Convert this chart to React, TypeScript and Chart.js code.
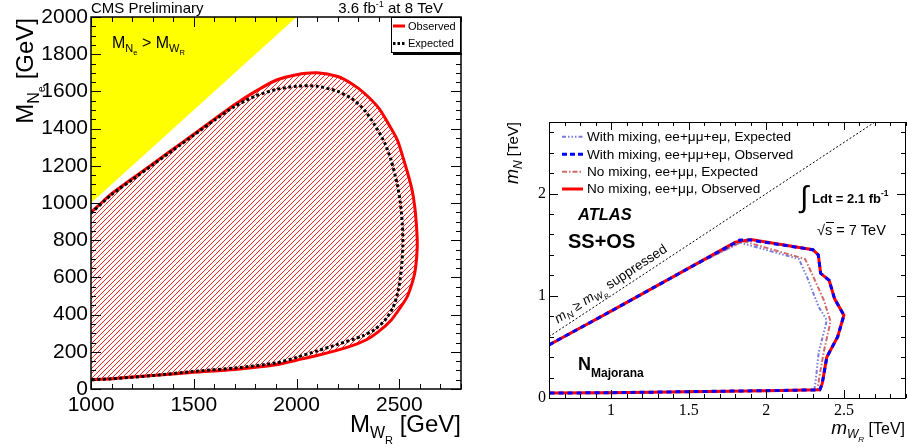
import React, { useEffect, useRef } from "react";
import { Chart, registerables } from "chart.js";
Chart.register(...registerables);

// ---------------- CMS (left) data ----------------
const cmsXTicks = [1000, 1500, 2000, 2500];
const cmsYTicks = [0, 200, 400, 600, 800, 1000, 1200, 1400, 1600, 1800, 2000];
const cmsForbiddenX = [1000, 2000, 1000];
const cmsForbiddenY = [1000, 2000, 2000];
const cmsObsX = [1000, 1050, 1100, 1200, 1300, 1400, 1500, 1600, 1700, 1800, 1900, 2000, 2100, 2200, 2270, 2330, 2400, 2450, 2490, 2530, 2560, 2575, 2585, 2587, 2580, 2570, 2540, 2500, 2460, 2400, 2340, 2250, 2100, 2000, 1900, 1700, 1500, 1300, 1200, 1100, 1000];
const cmsObsY = [950, 1000, 1050, 1130, 1210, 1290, 1370, 1450, 1530, 1600, 1660, 1690, 1700, 1680, 1640, 1590, 1510, 1420, 1340, 1200, 1080, 980, 850, 760, 660, 600, 500, 430, 370, 310, 265, 225, 180, 155, 130, 105, 90, 72, 65, 55, 50];
const cmsExpX = [1000, 1100, 1200, 1300, 1400, 1500, 1600, 1700, 1800, 1900, 2000, 2100, 2200, 2270, 2330, 2380, 2430, 2460, 2490, 2505, 2515, 2517, 2510, 2495, 2470, 2430, 2380, 2320, 2200, 2100, 2000, 1900, 1700, 1500, 1300, 1100, 1000];
const cmsExpY = [945, 1045, 1125, 1205, 1285, 1365, 1445, 1520, 1575, 1610, 1628, 1628, 1600, 1560, 1500, 1420, 1320, 1230, 1100, 1000, 880, 770, 650, 530, 440, 370, 320, 285, 240, 205, 170, 140, 113, 95, 72, 55, 50];
const cmsLegend = ["Observed", "Expected"];

// ---------------- ATLAS (right) data ----------------
const atlasXTicks = [1, 1.5, 2, 2.5];
const atlasYTicks = [0, 1, 2];
const atlasNoMixObsX = [0.6, 0.8, 1.0, 1.25, 1.5, 1.8, 1.9, 2.3, 2.335, 2.35, 2.405, 2.44, 2.5, 2.46, 2.39, 2.36, 2.345, 2.0, 1.5, 1.0, 0.6];
const atlasNoMixObsY = [0.52, 0.685, 0.85, 1.06, 1.27, 1.525, 1.55, 1.45, 1.4, 1.22, 1.15, 0.97, 0.81, 0.6, 0.4, 0.14, 0.08, 0.072, 0.062, 0.052, 0.048];
const atlasMixObsX = [0.6, 0.8, 1.0, 1.25, 1.5, 1.83, 1.9, 2.3, 2.335, 2.35, 2.405, 2.44, 2.5, 2.46, 2.39, 2.36, 2.345, 2.0, 1.5, 1.0, 0.6];
const atlasMixObsY = [0.52, 0.685, 0.85, 1.06, 1.27, 1.545, 1.545, 1.45, 1.4, 1.22, 1.15, 0.97, 0.81, 0.6, 0.4, 0.14, 0.08, 0.072, 0.062, 0.052, 0.048];
const atlasNoMixExpX = [0.6, 0.8, 1.0, 1.25, 1.5, 1.85, 2.25, 2.305, 2.37, 2.414, 2.37, 2.338, 2.33, 2.0, 1.5, 1.0, 0.6];
const atlasNoMixExpY = [0.52, 0.685, 0.85, 1.06, 1.27, 1.535, 1.36, 1.18, 0.96, 0.75, 0.45, 0.17, 0.08, 0.072, 0.062, 0.052, 0.048];
const atlasMixExpX = [0.6, 0.8, 1.0, 1.25, 1.5, 1.83, 2.21, 2.263, 2.338, 2.39, 2.338, 2.318, 2.31, 2.0, 1.5, 1.0, 0.6];
const atlasMixExpY = [0.52, 0.685, 0.85, 1.06, 1.27, 1.52, 1.36, 1.18, 0.89, 0.76, 0.45, 0.17, 0.08, 0.072, 0.062, 0.052, 0.048];
const atlasDiagX = [0.6, 2.7];
const atlasDiagY = [0.6, 2.7];
const atlasLegend = [
  "With mixing, ee+\u03bc\u03bc+e\u03bc, Expected",
  "With mixing, ee+\u03bc\u03bc+e\u03bc, Observed",
  "No mixing, ee+\u03bc\u03bc, Expected",
  "No mixing, ee+\u03bc\u03bc, Observed",
];

const pts = (xs: number[], ys: number[]) => xs.map((x, i) => ({ x, y: ys[i] }));

const SANS = '"Liberation Sans", Arial, sans-serif';
const SERIF = '"Liberation Serif", "Times New Roman", serif';
const f = (size: number, style = "") => `${style} ${size}px ${SANS}`.trim();

type Seg = [string, string, number?];
function segsWidth(ctx: CanvasRenderingContext2D, segs: Seg[]) {
  let w = 0;
  for (const s of segs) {
    ctx.font = s[1];
    w += ctx.measureText(s[0]).width;
  }
  return w;
}
function drawSegs(ctx: CanvasRenderingContext2D, segs: Seg[], x: number, y: number, align: "left" | "right" | "center" = "left") {
  const w = segsWidth(ctx, segs);
  let cx = align === "right" ? x - w : align === "center" ? x - w / 2 : x;
  ctx.textAlign = "left";
  ctx.textBaseline = "alphabetic";
  for (const s of segs) {
    ctx.font = s[1];
    ctx.fillText(s[0], cx, y + (s[2] || 0));
    cx += ctx.measureText(s[0]).width;
  }
}

function makeHatch() {
  const s = 5;
  const c = document.createElement("canvas");
  c.width = s;
  c.height = s;
  const g = c.getContext("2d")!;
  g.strokeStyle = "#ff2020";
  g.lineWidth = 1;
  g.beginPath();
  g.moveTo(-1, s + 1);
  g.lineTo(s + 1, -1);
  g.moveTo(-1, 1);
  g.lineTo(1, -1);
  g.moveTo(s - 1, s + 1);
  g.lineTo(s + 1, s - 1);
  g.stroke();
  return g.createPattern(c, "repeat")!;
}

const cmsDecor = {
  id: "cmsDecor",
  afterDraw(chart: any) {
    const { ctx, chartArea: a } = chart;
    const x = chart.scales.x;
    const y = chart.scales.y;
    ctx.save();
    ctx.strokeStyle = "#000";
    ctx.lineWidth = 1;
    ctx.beginPath();
    for (let i = 10; i <= 28; i++) {
      const px = Math.round(x.getPixelForValue(i * 100)) + 0.5;
      const len = i % 5 === 0 ? 10 : 5;
      ctx.moveTo(px, a.bottom);
      ctx.lineTo(px, a.bottom - len);
      ctx.moveTo(px, a.top);
      ctx.lineTo(px, a.top + len);
    }
    for (let i = 0; i <= 40; i++) {
      const py = Math.round(y.getPixelForValue(i * 50)) + 0.5;
      const len = i % 4 === 0 ? 10 : 5;
      ctx.moveTo(a.left, py);
      ctx.lineTo(a.left + len, py);
      ctx.moveTo(a.right, py);
      ctx.lineTo(a.right - len, py);
    }
    ctx.stroke();
    ctx.lineWidth = 1.5;
    ctx.strokeRect(a.left, a.top, a.right - a.left, a.bottom - a.top);

    ctx.fillStyle = "#000";
    drawSegs(ctx, [["CMS Preliminary", f(15)]], 91, 13);
    drawSegs(ctx, [["3.6 fb", f(15)], ["-1", f(9), -6], [" at 8 TeV", f(15)]], 443, 13, "right");
    drawSegs(ctx, [["M", f(16)], ["N", f(11), 4], ["e", f(7.5), 7], [" > M", f(16)], ["W", f(11), 4], ["R", f(7.5), 7]], 112, 48);
    drawSegs(ctx, [["M", f(24)], ["W", f(16), 6], ["R", f(11), 12], [" [GeV]", f(24)]], 461, 432, "right");
    ctx.save();
    ctx.translate(33, 0);
    ctx.rotate(-Math.PI / 2);
    drawSegs(ctx, [["M", f(24)], ["N", f(16), 6], ["e", f(11), 12], [" [GeV]", f(24)]], -18, 0, "right");
    ctx.restore();

    // legend
    ctx.fillStyle = "#fff";
    ctx.fillRect(391, 17, 70, 36);
    ctx.lineWidth = 1;
    ctx.strokeStyle = "#000";
    ctx.strokeRect(391.5, 17.5, 69, 35);
    ctx.lineWidth = 2;
    ctx.beginPath();
    ctx.moveTo(393, 54);
    ctx.lineTo(462, 54);
    ctx.stroke();
    ctx.lineWidth = 3;
    ctx.strokeStyle = "#ff0000";
    ctx.beginPath();
    ctx.moveTo(393, 26);
    ctx.lineTo(405, 26);
    ctx.stroke();
    ctx.strokeStyle = "#000";
    ctx.setLineDash([2.5, 2]);
    ctx.beginPath();
    ctx.moveTo(393, 43.5);
    ctx.lineTo(406, 43.5);
    ctx.stroke();
    ctx.setLineDash([]);
    ctx.fillStyle = "#000";
    ctx.font = f(11);
    ctx.textBaseline = "middle";
    ctx.fillText(cmsLegend[0], 408, 26.5);
    ctx.fillText(cmsLegend[1], 408, 44);
    ctx.restore();
  },
};

const OX = 470;
const atlasDecor = {
  id: "atlasDecor",
  afterDraw(chart: any) {
    const { ctx, chartArea: a } = chart;
    const x = chart.scales.x;
    const y = chart.scales.y;
    ctx.save();
    ctx.strokeStyle = "#000";
    ctx.lineWidth = 1;
    ctx.beginPath();
    for (let i = 6; i <= 29; i++) {
      const px = Math.round(x.getPixelForValue(i / 10)) + 0.5;
      const len = i % 5 === 0 ? 8 : 4;
      ctx.moveTo(px, a.bottom);
      ctx.lineTo(px, a.bottom - len);
      ctx.moveTo(px, a.top);
      ctx.lineTo(px, a.top + len);
    }
    for (let i = 0; i <= 13; i++) {
      const py = Math.round(y.getPixelForValue(i * 0.2)) + 0.5;
      const len = i % 5 === 0 ? 9 : 5;
      ctx.moveTo(a.left, py);
      ctx.lineTo(a.left + len, py);
      ctx.moveTo(a.right, py);
      ctx.lineTo(a.right - len, py);
    }
    ctx.stroke();
    ctx.strokeRect(Math.round(a.left) + 0.5, Math.round(a.top) + 0.5, Math.round(a.right - a.left) - 1, Math.round(a.bottom - a.top));

    // legend
    const rows = [136.7, 154.3, 171.7, 189];
    const styles: [string, number, number[]][] = [
      ["#7a7ae0", 2, [4, 2, 1.5, 2, 1.5, 2, 1.5, 2]],
      ["#0000ff", 3, [5, 3]],
      ["#d06868", 2, [5, 2, 1.5, 2]],
      ["#ff0000", 3, []],
    ];
    rows.forEach((ry, i) => {
      ctx.strokeStyle = styles[i][0];
      ctx.lineWidth = styles[i][1];
      ctx.setLineDash(styles[i][2]);
      ctx.beginPath();
      ctx.moveTo(562 - OX, ry);
      ctx.lineTo(583 - OX, ry);
      ctx.stroke();
      ctx.setLineDash([]);
      ctx.fillStyle = "#000";
      ctx.font = f(13.6);
      ctx.textBaseline = "middle";
      ctx.textAlign = "left";
      ctx.fillText(atlasLegend[i], 587 - OX, ry + 0.5);
    });

    ctx.fillStyle = "#000";
    drawSegs(ctx, [["ATLAS", f(16.5, "italic bold")]], 578 - OX, 220);
    drawSegs(ctx, [["SS+OS", f(20, "bold")]], 568 - OX, 248);
    drawSegs(ctx, [["N", f(18, "bold")], ["Majorana", f(12, "bold"), 7]], 578 - OX, 370);
    // luminosity
    ctx.font = `30px ${SANS}`;
    ctx.textBaseline = "alphabetic";
    ctx.fillText("\u222b", 800 - OX, 207);
    drawSegs(ctx, [["Ldt = 2.1 fb", f(13, "bold")], ["-1", f(8.5, "bold"), -7]], 812 - OX, 203);
    drawSegs(ctx, [["\u221a", f(14.5)], ["s = 7 TeV", f(14.5)]], 817 - OX, 235);
    ctx.lineWidth = 1;
    ctx.strokeStyle = "#000";
    ctx.beginPath();
    ctx.moveTo(826 - OX, 222.5);
    ctx.lineTo(834 - OX, 222.5);
    ctx.stroke();

    // diagonal label
    const p1x = x.getPixelForValue(atlasDiagX[0]);
    const p1y = y.getPixelForValue(atlasDiagY[0]);
    const p2x = x.getPixelForValue(atlasDiagX[1]);
    const p2y = y.getPixelForValue(atlasDiagY[1]);
    const ang = Math.atan2(p1y - p2y, p2x - p1x);
    ctx.save();
    ctx.translate(x.getPixelForValue(0.68), y.getPixelForValue(0.68));
    ctx.rotate(-ang);
    drawSegs(ctx, [["m", f(13.5, "italic")], ["N", f(9.5, "italic"), 3], [" \u2265 ", f(13.5)], ["m", f(13.5, "italic")], ["W", f(9.5, "italic"), 3], ["R", f(6.5, "italic"), 6], [" suppressed", f(13.5)]], 0, -6);
    ctx.restore();

    // axis titles
    drawSegs(ctx, [["m", f(19, "italic")], ["W", f(12, "italic"), 4], ["R", f(8, "italic"), 8], [" [TeV]", f(16)]], 905 - OX, 434, "right");
    ctx.save();
    ctx.translate(518 - OX, 0);
    ctx.rotate(-Math.PI / 2);
    drawSegs(ctx, [["m", f(18, "italic")], ["N", f(12, "italic"), 4], [" [TeV]", f(15)]], -122, 0, "right");
    ctx.restore();
    ctx.restore();
  },
};

function makeCms(canvas: HTMLCanvasElement) {
  const hatch = makeHatch();
  return new Chart(canvas, {
    type: "line",
    data: {
      datasets: [
        {
          data: pts(cmsExpX, cmsExpY),
          borderColor: "#000",
          borderWidth: 3,
          borderDash: [3, 2.5],
          pointRadius: 0,
          fill: false,
          tension: 0.25,
        },
        {
          data: pts(cmsObsX, cmsObsY),
          borderColor: "#ff0000",
          borderWidth: 3,
          backgroundColor: hatch as any,
          pointRadius: 0,
          fill: "shape" as any,
          tension: 0.25,
        },
        {
          data: pts(cmsForbiddenX, cmsForbiddenY),
          borderWidth: 0,
          borderColor: "rgba(0,0,0,0)",
          backgroundColor: "#ffff00",
          pointRadius: 0,
          fill: "shape" as any,
          tension: 0,
        },
      ],
    },
    options: {
      responsive: false,
      devicePixelRatio: 1,
      animation: false,
      events: [],
      layout: { padding: { left: 0, right: 9, top: 17, bottom: 0 } },
      plugins: { legend: { display: false }, tooltip: { enabled: false } },
      scales: {
        x: {
          type: "linear",
          min: 1000,
          max: 2800,
          afterBuildTicks: (s: any) => {
            s.ticks = cmsXTicks.map((v) => ({ value: v }));
          },
          afterFit: (s: any) => {
            s.height = 59;
          },
          grid: { display: false, drawTicks: false },
          border: { display: false },
          ticks: {
            font: { family: SANS, size: 21 },
            color: "#000",
            padding: 4,
            maxRotation: 0,
            autoSkip: false,
            callback: (v: any) => String(v),
          },
        },
        y: {
          type: "linear",
          min: 0,
          max: 2000,
          afterBuildTicks: (s: any) => {
            s.ticks = cmsYTicks.map((v) => ({ value: v }));
          },
          afterFit: (s: any) => {
            s.width = 91;
          },
          grid: { display: false, drawTicks: false },
          border: { display: false },
          ticks: {
            font: { family: SANS, size: 21 },
            color: "#000",
            padding: 3,
            autoSkip: false,
            callback: (v: any) => String(v),
          },
        },
      },
    },
    plugins: [cmsDecor],
  } as any);
}

function makeAtlas(canvas: HTMLCanvasElement) {
  return new Chart(canvas, {
    type: "line",
    data: {
      datasets: [
        {
          data: pts(atlasMixObsX, atlasMixObsY),
          borderColor: "#0000ff",
          borderWidth: 3,
          borderDash: [5, 4],
          pointRadius: 0,
          fill: false,
        },
        {
          data: pts(atlasNoMixObsX, atlasNoMixObsY),
          borderColor: "#ff0000",
          borderWidth: 3,
          pointRadius: 0,
          fill: false,
        },
        {
          data: pts(atlasMixExpX, atlasMixExpY),
          borderColor: "#7a7ae0",
          borderWidth: 2,
          borderDash: [4, 2, 1.5, 2, 1.5, 2, 1.5, 2],
          pointRadius: 0,
          fill: false,
        },
        {
          data: pts(atlasNoMixExpX, atlasNoMixExpY),
          borderColor: "#d06868",
          borderWidth: 2,
          borderDash: [5, 2, 1.5, 2],
          pointRadius: 0,
          fill: false,
        },
        {
          data: pts(atlasDiagX, atlasDiagY),
          borderColor: "#000",
          borderWidth: 1,
          borderDash: [2, 2],
          pointRadius: 0,
          fill: false,
        },
      ],
    },
    options: {
      responsive: false,
      devicePixelRatio: 1,
      animation: false,
      events: [],
      layout: { padding: { left: 0, right: 1, top: 122, bottom: 0 } },
      plugins: { legend: { display: false }, tooltip: { enabled: false } },
      scales: {
        x: {
          type: "linear",
          min: 0.6,
          max: 2.9,
          afterBuildTicks: (s: any) => {
            s.ticks = atlasXTicks.map((v) => ({ value: v }));
          },
          afterFit: (s: any) => {
            s.height = 50;
          },
          grid: { display: false, drawTicks: false },
          border: { display: false },
          ticks: {
            font: { family: SERIF, size: 16 },
            color: "#000",
            padding: 3,
            maxRotation: 0,
            autoSkip: false,
            callback: (v: any) => String(v),
          },
        },
        y: {
          type: "linear",
          min: 0,
          max: 2.7,
          afterBuildTicks: (s: any) => {
            s.ticks = atlasYTicks.map((v) => ({ value: v }));
          },
          afterFit: (s: any) => {
            s.width = 79;
          },
          grid: { display: false, drawTicks: false },
          border: { display: false },
          ticks: {
            font: { family: SERIF, size: 16 },
            color: "#000",
            padding: 3,
            autoSkip: false,
            callback: (v: any) => String(v),
          },
        },
      },
    },
    plugins: [atlasDecor],
  } as any);
}

export default function App() {
  const leftRef = useRef<HTMLCanvasElement>(null);
  const rightRef = useRef<HTMLCanvasElement>(null);
  useEffect(() => {
    const c1 = makeCms(leftRef.current!);
    const c2 = makeAtlas(rightRef.current!);
    return () => {
      c1.destroy();
      c2.destroy();
    };
  }, []);
  return (
    <div style={{ position: "fixed", left: 0, top: 0, width: 907, height: 448, background: "#fff" }}>
      <canvas ref={leftRef} width={470} height={448} style={{ position: "absolute", left: 0, top: 0, width: 470, height: 448 }} />
      <canvas ref={rightRef} width={437} height={448} style={{ position: "absolute", left: 470, top: 0, width: 437, height: 448 }} />
    </div>
  );
}
